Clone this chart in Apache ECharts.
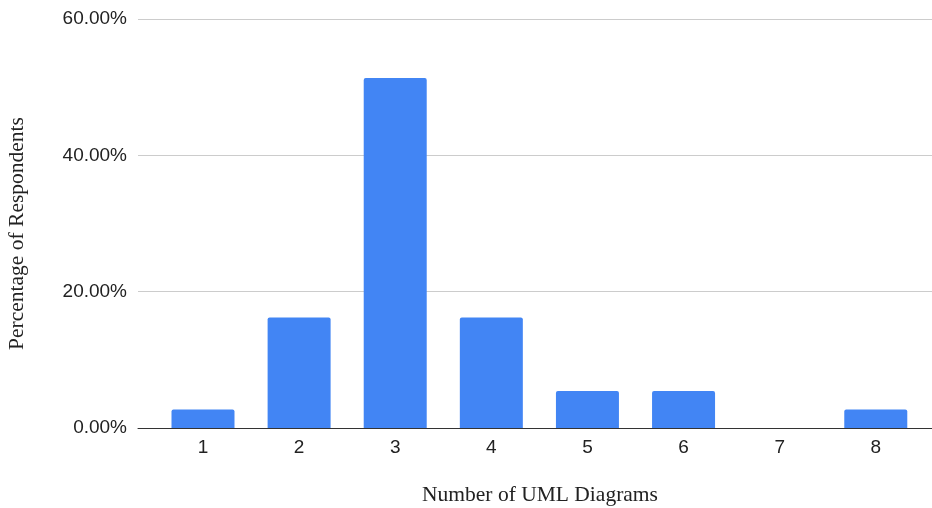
<!DOCTYPE html>
<html>
<head>
<meta charset="utf-8">
<script src="https://cdn.jsdelivr.net/npm/echarts@6/dist/echarts.min.js"></script>
<style>
html,body{margin:0;padding:0;background:#fff;}
#chart{width:932px;height:508px;}
</style>
</head>
<body>
<div id="chart"></div>
<script>
const categories = [1, 2, 3, 4, 5, 6, 7, 8];
const percentages = [2.70, 16.22, 51.35, 16.22, 5.41, 5.41, 0, 2.70];
const yTicks = [0, 20, 40, 60];

const chart = echarts.init(document.getElementById('chart'));
const sans = '"Liberation Sans", Arial, sans-serif';
const serif = '"Liberation Serif", "Times New Roman", serif';

chart.setOption({
  animation: false,
  grid: { left: 138, right: 0, top: 19, bottom: 80, containLabel: false, outerBoundsMode: 'none' },
  xAxis: {
    type: 'value',
    min: 0.3237,
    max: 8.585,
    name: 'Number of UML Diagrams',
    nameLocation: 'middle',
    nameGap: 56,
    nameTextStyle: { fontFamily: serif, fontSize: 21.5, color: '#222', padding: [0, 0, 0, 10] },
    axisLine: { show: true, onZero: false, lineStyle: { color: '#333', width: 1 } },
    axisTick: { show: false },
    splitLine: { show: false },
    axisLabel: {
      customValues: categories,
      margin: 10,
      fontFamily: sans, fontSize: 19, color: '#222',
      formatter: v => String(Math.round(v))
    }
  },
  yAxis: {
    type: 'value',
    min: 0,
    max: 60,
    interval: 20,
    name: 'Percentage of Respondents',
    nameLocation: 'middle',
    nameGap: 110,
    nameTextStyle: { fontFamily: serif, fontSize: 21.5, color: '#222', padding: [0, 20, 0, 0] },
    axisLine: { show: false },
    axisTick: { show: false },
    splitLine: { show: true, lineStyle: { color: '#cccccc', width: 1 } },
    axisLabel: {
      customValues: yTicks,
      margin: 11,
      fontFamily: sans, fontSize: 19, color: '#222',
      formatter: v => v.toFixed(2) + '%'
    }
  },
  series: [{
    type: 'bar',
    data: categories.map((c, i) => [c, percentages[i]]),
    barWidth: 63,
    itemStyle: { color: '#4285f4', borderRadius: [2, 2, 0, 0] }
  }]
});
</script>
</body>
</html>
